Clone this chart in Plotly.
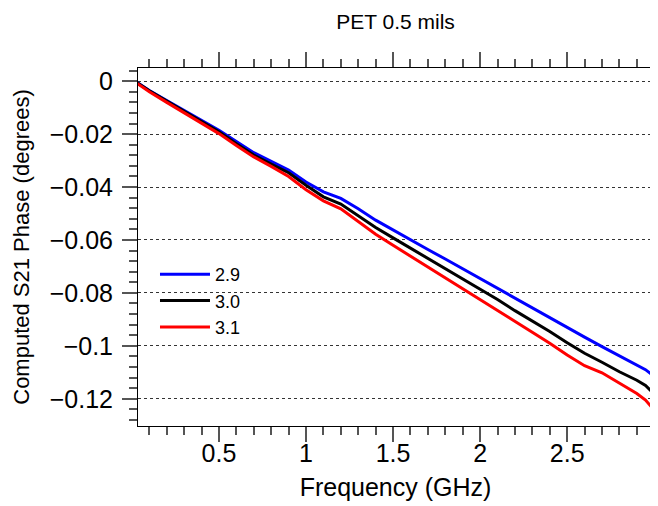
import plotly.graph_objects as go

title_text = "PET 0.5 mils"
x_title = "Frequency (GHz)"
y_title = "Computed S21 Phase (degrees)"

freq_ghz = [0.03, 0.1, 0.2, 0.3, 0.4, 0.5, 0.6, 0.7, 0.8, 0.9, 1.0, 1.1, 1.2, 1.3, 1.4,
            1.5, 1.6, 1.7, 1.8, 1.9, 2.0, 2.1, 2.2, 2.3, 2.4, 2.5, 2.6, 2.7, 2.8, 2.9, 2.95, 2.993]

phase_29 = [-0.0005, -0.0035, -0.0073, -0.0110, -0.0150, -0.0185, -0.0228, -0.0270, -0.0303, -0.0336,
            -0.0381, -0.0418, -0.0443, -0.0482, -0.0525, -0.0563, -0.0600, -0.0636, -0.0672, -0.0709,
            -0.0746, -0.0784, -0.0822, -0.0858, -0.0893, -0.0930, -0.0967, -0.1003, -0.1038, -0.1072,
            -0.1090, -0.1112]

phase_30 = [-0.0006, -0.0036, -0.0075, -0.0113, -0.0154, -0.0191, -0.0236, -0.0279, -0.0313, -0.0346,
            -0.0393, -0.0437, -0.0464, -0.0510, -0.0553, -0.0592, -0.0631, -0.0670, -0.0708, -0.0746,
            -0.0784, -0.0825, -0.0867, -0.0906, -0.0946, -0.0988, -0.1028, -0.1062, -0.1098, -0.1130,
            -0.1150, -0.1178]

phase_31 = [-0.0008, -0.0040, -0.0080, -0.0119, -0.0160, -0.0198, -0.0243, -0.0286, -0.0322, -0.0360,
            -0.0410, -0.0452, -0.0482, -0.0530, -0.0578, -0.0620, -0.0661, -0.0702, -0.0743, -0.0784,
            -0.0825, -0.0866, -0.0907, -0.0946, -0.0990, -0.1035, -0.1075, -0.1102, -0.1140, -0.1180,
            -0.1205, -0.1238]

series_names = ["2.9", "3.0", "3.1"]
series_colors = ["#0000FF", "#000000", "#FF0000"]

x_tickvals = [0.5, 1.0, 1.5, 2.0, 2.5]
x_ticktext = ["0.5", "1", "1.5", "2", "2.5"]
y_tickvals = [0, -0.02, -0.04, -0.06, -0.08, -0.1, -0.12]
y_ticktext = ["0", "\u22120.02", "\u22120.04", "\u22120.06", "\u22120.08", "\u22120.1", "\u22120.12"]

fig = go.Figure()
for name, ys, col in zip(series_names, [phase_29, phase_30, phase_31], series_colors):
    fig.add_trace(go.Scatter(x=freq_ghz, y=ys, name=name, mode="lines",
                             line=dict(color=col, width=3)))

font_family = "Arial, Liberation Sans, sans-serif"
tick_col = "#555555"

fig.update_layout(
    width=658, height=506,
    margin=dict(l=130, r=13, t=60, b=88),
    paper_bgcolor="white", plot_bgcolor="white",
    font=dict(family=font_family, color="black"),
    title=dict(text=title_text, x=0.5, xref="paper", xanchor="center",
               y=1 - 14 / 506, yanchor="middle", font=dict(size=21, family=font_family)),
    legend=dict(x=0.033, y=0.475, xanchor="left", yanchor="top",
                bgcolor="rgba(0,0,0,0)", borderwidth=0,
                font=dict(size=18, family=font_family), itemwidth=50),
    xaxis=dict(range=[0.035, 2.993], showline=True, linecolor="black", linewidth=1,
               automargin=False,
               mirror="allticks", ticks="outside", ticklen=15, tickwidth=1.5, tickcolor=tick_col,
               tickvals=x_tickvals, ticktext=x_ticktext, showgrid=False, zeroline=False,
               tickfont=dict(size=25), ticklabelstandoff=-10,
               minor=dict(dtick=0.1, tick0=0, ticks="outside", ticklen=8, tickwidth=1.5,
                          tickcolor=tick_col, showgrid=False),
               title=dict(text=x_title, font=dict(size=25), standoff=12)),
    yaxis=dict(range=[-0.1303, 0.005], showline=True, linecolor="black", linewidth=1,
               automargin=False,
               mirror="allticks", ticks="outside", ticklen=15, tickwidth=1.5, tickcolor=tick_col,
               tickvals=y_tickvals, ticktext=y_ticktext,
               showgrid=True, gridcolor="#333333", griddash="dot", gridwidth=1, zeroline=False,
               tickfont=dict(size=25), ticklabelstandoff=4,
               minor=dict(dtick=0.004, tick0=0, ticks="outside", ticklen=8, tickwidth=1.5,
                          tickcolor=tick_col, showgrid=False),
               title=dict(text=y_title, font=dict(size=22), standoff=14)),
)

fig.write_html("out.html")
